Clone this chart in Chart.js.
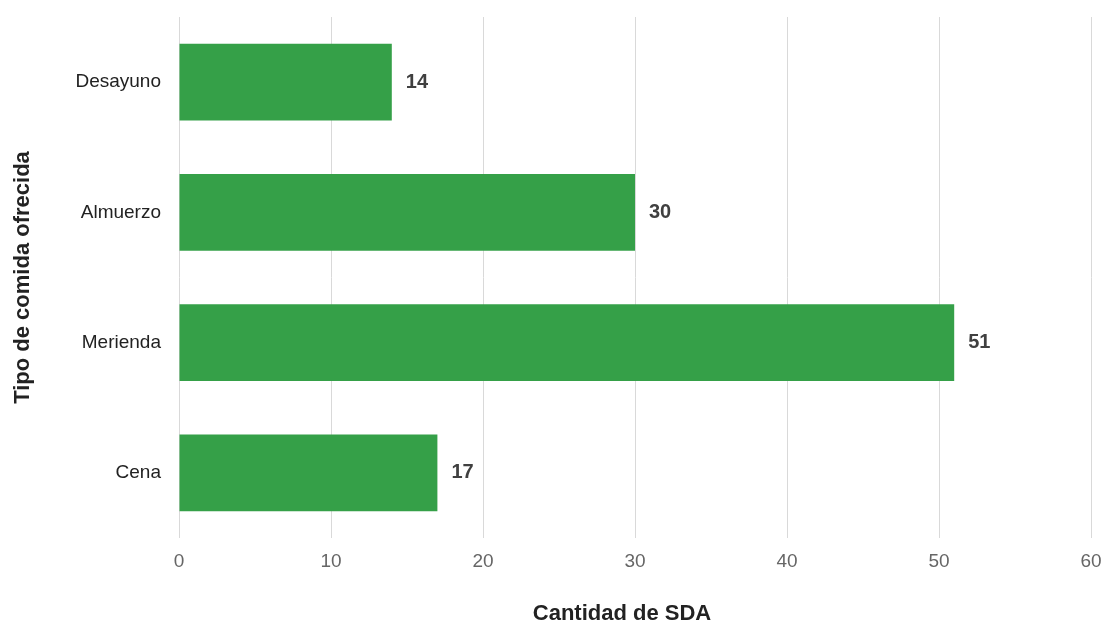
<!DOCTYPE html>
<html>
<head>
<meta charset="utf-8">
<title>Tipo de comida ofrecida</title>
<script src="https://cdn.jsdelivr.net/npm/chart.js@4/dist/chart.umd.min.js"></script>
<style>
  html, body { margin: 0; padding: 0; background: #fff; }
  #wrap { width: 1105px; height: 623px; }
</style>
</head>
<body>
<div id="wrap"><canvas id="chart" width="1105" height="623"></canvas></div>
<script>
// Data
const categories = ["Desayuno", "Almuerzo", "Merienda", "Cena"];
const values = [14, 30, 51, 17];
const xTicks = [0, 10, 20, 30, 40, 50, 60];
const xTitle = "Cantidad de SDA";
const yTitle = "Tipo de comida ofrecida";

const FONT = "'Liberation Sans', Arial, sans-serif";

// value labels at bar ends + x axis title (sits a bit left of plot centre in the original)
const extras = {
    id: "extras",
    afterDatasetsDraw(chart) {
        const ctx = chart.ctx;
        const meta = chart.getDatasetMeta(0);
        ctx.save();
        ctx.font = "bold 20px " + FONT;
        ctx.fillStyle = "#404040";
        ctx.textAlign = "left";
        ctx.textBaseline = "middle";
        meta.data.forEach((bar, i) => {
            ctx.fillText(String(values[i]), bar.x + 14, bar.y);
        });

        ctx.font = "bold 22px " + FONT;
        ctx.fillStyle = "#222";
        ctx.textAlign = "center";
        const xs = chart.scales.x;
        ctx.fillText(xTitle, (xs.left + xs.right) / 2 - 13, 614);
        ctx.restore();
    }
};

new Chart(document.getElementById("chart"), {
    type: "bar",
    data: {
        labels: categories,
        datasets: [{
            data: values,
            backgroundColor: "#35a048",
            borderWidth: 0,
            categoryPercentage: 1,
            barPercentage: 0.59
        }]
    },
    options: {
        indexAxis: "y",
        responsive: false,
        animation: false,
        layout: { padding: { top: 17, right: 14, left: 0, bottom: 0 } },
        plugins: { legend: { display: false }, tooltip: { enabled: false } },
        scales: {
            x: {
                min: xTicks[0],
                max: xTicks[xTicks.length - 1],
                afterBuildTicks: axis => { axis.ticks = xTicks.map(v => ({ value: v })); },
                afterFit: axis => {
                    axis.height = 85;
                    axis.paddingLeft = 0;
                    axis.paddingRight = 0;
                },
                grid: { color: "#d9d9d9", lineWidth: 1, drawTicks: false },
                border: { display: false },
                ticks: { color: "#666", padding: 12, font: { family: FONT, size: 19 } }
            },
            y: {
                afterFit: axis => {
                    axis.width = 179;
                    axis.paddingTop = 0;
                    axis.paddingBottom = 0;
                },
                grid: { display: false, drawTicks: false },
                border: { display: false },
                ticks: { color: "#222", padding: 18, font: { family: FONT, size: 19 } },
                title: {
                    display: true,
                    text: yTitle,
                    color: "#222",
                    padding: { top: 10, bottom: 0 },
                    font: { family: FONT, size: 22, weight: "bold" }
                }
            }
        }
    },
    plugins: [extras]
});
</script>
</body>
</html>
